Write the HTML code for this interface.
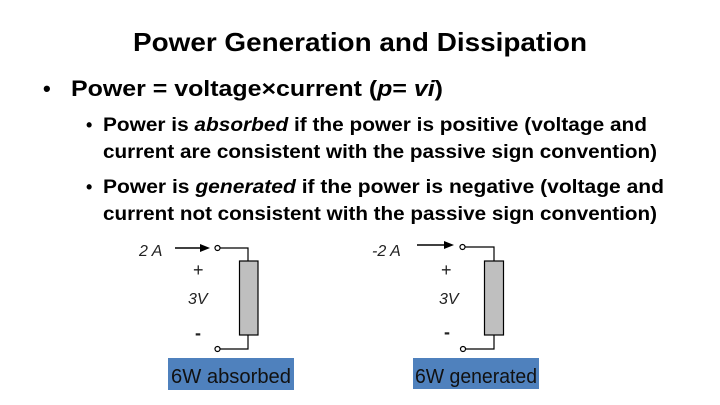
<!DOCTYPE html>
<html><head><meta charset="utf-8"><style>html,body{margin:0;padding:0;background:#fff}svg{display:block}</style></head>
<body>
<svg width="720" height="405" viewBox="0 0 720 405" xmlns="http://www.w3.org/2000/svg" font-family="Liberation Sans, sans-serif">
<g font-weight="bold" fill="#000">
<text x="133" y="51" font-size="26" textLength="454" lengthAdjust="spacingAndGlyphs">Power Generation and Dissipation</text>
<text x="43" y="96" font-size="22">•</text>
<text x="71" y="96" font-size="22" textLength="372" lengthAdjust="spacingAndGlyphs">Power = voltage×current  (<tspan font-style="italic">p</tspan>= <tspan font-style="italic">vi</tspan>)</text>
<text x="86" y="131" font-size="18">•</text>
<text x="103" y="131" font-size="19" textLength="544" lengthAdjust="spacingAndGlyphs">Power is <tspan font-style="italic">absorbed</tspan> if the power is positive (voltage and</text>
<text x="103" y="158" font-size="19" textLength="554" lengthAdjust="spacingAndGlyphs">current are consistent with the passive sign convention)</text>
<text x="86" y="193" font-size="18">•</text>
<text x="103" y="193" font-size="19" textLength="561" lengthAdjust="spacingAndGlyphs">Power is <tspan font-style="italic">generated</tspan> if the power is negative (voltage and</text>
<text x="103" y="220" font-size="19" textLength="554" lengthAdjust="spacingAndGlyphs">current not consistent with the passive sign convention)</text>
</g>
<g id="c1">
<text x="139" y="256" font-size="16" font-style="italic" fill="#222">2 A</text>
<line x1="175" y1="248" x2="202" y2="248" stroke="#000" stroke-width="1.5"/>
<polygon points="210,248 200,244 200,252" fill="#000"/>
<polyline points="220,248 248,248 248,261" fill="none" stroke="#000" stroke-width="1.2"/>
<polyline points="248,335 248,349 220,349" fill="none" stroke="#000" stroke-width="1.2"/>
<circle cx="217.5" cy="248" r="2.5" fill="#fff" stroke="#000" stroke-width="1.2"/>
<circle cx="217.5" cy="349" r="2.5" fill="#fff" stroke="#000" stroke-width="1.2"/>
<rect x="239.5" y="261" width="18.5" height="74" fill="#bfbfbf" stroke="#000" stroke-width="1.2"/>
<text x="193" y="276" font-size="18" fill="#222">+</text>
<text x="188" y="304" font-size="16" font-style="italic" fill="#222">3V</text>
<text x="195" y="339" font-size="18" font-weight="bold" fill="#222">-</text>
<rect x="168" y="358" width="126" height="32" fill="#4f81bd"/>
<text x="231" y="383" font-size="20" text-anchor="middle" fill="#111" textLength="120" lengthAdjust="spacingAndGlyphs">6W absorbed</text>
</g>
<g>
<text x="372" y="256" font-size="16" font-style="italic" fill="#222">-2 A</text>
<line x1="417" y1="245" x2="446" y2="245" stroke="#000" stroke-width="1.5"/>
<polygon points="454,245 444,241 444,249" fill="#000"/>
<polyline points="465,247 494,247 494,261" fill="none" stroke="#000" stroke-width="1.2"/>
<polyline points="494,335 494,349 466,349" fill="none" stroke="#000" stroke-width="1.2"/>
<circle cx="462.5" cy="247" r="2.5" fill="#fff" stroke="#000" stroke-width="1.2"/>
<circle cx="463" cy="349" r="2.5" fill="#fff" stroke="#000" stroke-width="1.2"/>
<rect x="484.5" y="261" width="19" height="74" fill="#bfbfbf" stroke="#000" stroke-width="1.2"/>
<text x="441" y="276" font-size="18" fill="#222">+</text>
<text x="439" y="304" font-size="16" font-style="italic" fill="#222">3V</text>
<text x="444" y="338" font-size="18" font-weight="bold" fill="#222">-</text>
<rect x="413" y="358" width="126" height="31" fill="#4f81bd"/>
<text x="476" y="383" font-size="20" text-anchor="middle" fill="#111" textLength="122" lengthAdjust="spacingAndGlyphs">6W generated</text>
</g>
</svg>
</body></html>
